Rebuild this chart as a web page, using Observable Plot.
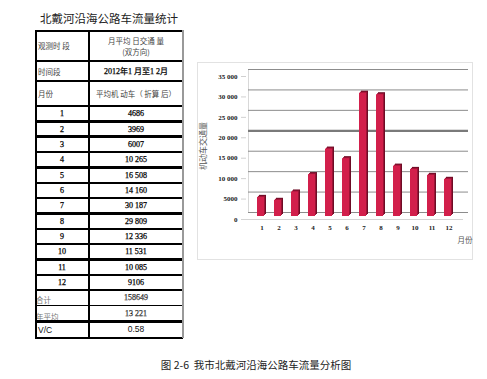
<!DOCTYPE html>
<html><head><meta charset="utf-8">
<script src="https://cdn.jsdelivr.net/npm/d3@7"></script>
<script src="https://cdn.jsdelivr.net/npm/@observablehq/plot@0.6"></script>
<style>
body{margin:0;background:#fff;width:487px;height:379px;position:relative;overflow:hidden;font-family:"Liberation Serif","Noto Sans CJK SC",serif;}
.abs{position:absolute;}
#title{left:40px;top:9px;font-size:11.5px;letter-spacing:0px;color:#222;font-family:"Noto Sans CJK SC",sans-serif;line-height:18px;}
#table{left:35px;top:30px;width:148px;height:308px;}
.cell{position:absolute;display:flex;align-items:center;box-sizing:border-box;font-size:8px;color:#222;}
.c1{justify-content:flex-start;padding-left:3px;}
.cc{justify-content:center;}
.hl{position:absolute;background:#000;}
#chartbox{left:197px;top:62px;width:276px;height:198px;border:1px solid #e2e2e2;box-sizing:border-box;}
#chart{left:197px;top:62px;}
#caption{left:0;width:512px;text-align:center;top:357px;font-size:10.5px;color:#222;font-family:"Noto Sans CJK SC",sans-serif;}
</style></head>
<body>
<div id="title" class="abs">北戴河沿海公路车流量统计</div>
<div id="table" class="abs"></div>
<div id="chartbox" class="abs"></div>
<div id="chart" class="abs"></div>
<div id="caption" class="abs">图 2-6&nbsp; 我市北戴河沿海公路车流量分析图</div>
<script>
const months = ["1","2","3","4","5","6","7","8","9","10","11","12"];
const volumes = [4686,3969,6007,10265,16508,14160,30187,29809,12336,11531,10085,9106];
const volumeLabels = ["4686","3969","6007","10 265","16 508","14 160","30 187","29 809","12 336","11 531","10 085","9106"];
const headerLabels = ["观测时 段","月平均 日交通 量\n(双方向)"];
const periodLabels = ["时间段","2012年1 月至1 2月"];
const unitLabels = ["月份","平均机 动车（ 折算 后）"];
const summaryLabels = ["合计","年平均","V/C"];
const summaryValues = ["158649","13 221","0.58"];
const yTicks = [0,5000,10000,15000,20000,25000,30000,35000];
const yTickLabels = ["0","5000","10 000","15 000","20 000","25 000","30 000","35 000"];
const yTitle = "机动车交通量";
const xTitle = "月份";

(function(){
// ---- table ----
const tb = document.getElementById("table");
const W1 = 54, W = 148;
const rows = [];
rows.push({a:headerLabels[0], b:headerLabels[1], h:31, cjkA:true, cjkB:true, line:2.5});
rows.push({a:periodLabels[0], b:periodLabels[1], h:20, cjkA:true, cjkB:false, line:1.5});
rows.push({a:unitLabels[0], b:unitLabels[1], h:25, cjkA:true, cjkB:true, line:1.5});
months.forEach((m,i)=>rows.push({a:m, b:volumeLabels[i], h:15.35, center:true, line:2.5}));
rows.push({a:summaryLabels[0], b:summaryValues[0], h:15, cjkA:true, gray:true, line:1, low:true});
rows.push({a:summaryLabels[1], b:summaryValues[1], h:16.5, cjkA:true, gray:true, line:2.5, low:true});
rows.push({a:summaryLabels[2], b:summaryValues[2], h:16.5, sans:true, line:2});
let y = 0;
const topLine = document.createElement("div"); topLine.className="hl";
Object.assign(topLine.style,{left:"0px",top:"0px",width:W+"px",height:"2px"}); tb.appendChild(topLine);
rows.forEach((r,i)=>{
  const ca = document.createElement("div");
  ca.className = "cell " + (r.center ? "cc" : "c1");
  Object.assign(ca.style,{left:"0px",top:y+"px",width:W1+"px",height:r.h+"px"});
  if (r.low) { ca.style.alignItems = "flex-end"; ca.style.paddingLeft = "1px"; }
  ca.textContent = r.a;
  const cb = document.createElement("div");
  cb.className = "cell cc";
  Object.assign(cb.style,{left:W1+"px",top:y+"px",width:(W-W1)+"px",height:r.h+"px",textAlign:"center",whiteSpace:"pre-line",lineHeight:"11px"});
  cb.textContent = r.b;
  [ca,cb].forEach((c,j)=>{
    const cjk = j===0 ? r.cjkA : r.cjkB;
    if (cjk) { c.style.fontFamily='"Noto Sans CJK SC",sans-serif'; c.style.fontSize="7.5px"; c.style.color="#444"; }
    else { c.style.fontSize="8px"; c.style.color="#000"; c.style.webkitTextStroke="0.25px #000"; }
    if (r.gray) c.style.color="#777";
    if (r.sans) { c.style.fontFamily='"Liberation Sans",sans-serif'; c.style.fontWeight="normal"; c.style.fontSize="8.5px"; c.style.color="#111"; c.style.webkitTextStroke="0"; }
  });
  tb.appendChild(ca); tb.appendChild(cb);
  y += r.h;
  if (r.line>0 || i===rows.length-1) {
    const l = document.createElement("div"); l.className="hl";
    const lw = i===rows.length-1 ? 2 : r.line;
    Object.assign(l.style,{left:"0px",top:(y-lw/2)+"px",width:W+"px",height:lw+"px"});
    tb.appendChild(l);
  }
});
const leftLine = document.createElement("div"); leftLine.className="hl";
Object.assign(leftLine.style,{left:"0px",top:"0px",width:"2px",height:y+"px"}); tb.appendChild(leftLine);
const midLine = document.createElement("div"); midLine.className="hl";
Object.assign(midLine.style,{left:(W1-0.75)+"px",top:"0px",width:"1.5px",height:y+"px"}); tb.appendChild(midLine);
const rightLine = document.createElement("div"); rightLine.className="hl";
Object.assign(rightLine.style,{left:(W-1)+"px",top:"0px",width:"1.5px",height:y+"px",background:"#999"}); tb.appendChild(rightLine);

// ---- chart ----
const data = months.map((m,i)=>({month:m, value:volumes[i]}));
const chart = Plot.plot({
  width: 276, height: 198,
  marginLeft: 50, marginRight: 12, marginTop: 11, marginBottom: 44,
  style: {background:"transparent", overflow:"visible", fontFamily:"Liberation Serif, serif"},
  x: {type:"band", domain: months, padding: 0.58},
  y: {domain:[0,35000]},
  marks: [
    Plot.frame({anchor:"left", stroke:"#d8d8d8", dy:-4, dx:1}),
    Plot.axisY({ticks: yTicks, tickSize: 5, tickPadding: 4, stroke:"#d0d0d0", tickFormat: d => yTickLabels[yTicks.indexOf(d)], fontSize: 7, fontWeight:"bold", fill:"#222", dy:3, dx:-1, label:null}),
    Plot.ruleY(yTicks.filter(d=>d!==20000), {stroke:"#8c8c8c", strokeWidth:1, dy:-4, insetLeft:1, insetRight:-7}),
    Plot.ruleY([20000], {stroke:"#7a7a7a", strokeWidth:2.2, dy:-4, insetLeft:1, insetRight:-7}),
    Plot.ruleY([0], {stroke:"#d4d4d4", strokeWidth:1, dy:3, insetLeft:-6, insetRight:-2}),
    Plot.barY(data, {x:"month", y:"value", fill:"#6e0c26", dx:2, dy:-2}),
    Plot.barY(data, {x:"month", y:"value", fill:"#9c1436", dx:1, dy:-1}),
    Plot.barY(data, {x:"month", y:"value", fill:"#d21f4b"}),
    Plot.axisX({tickSize:0, tickPadding:9, fontSize:7, fontWeight:"bold", fill:"#222", label:null, dx:1}),
    Plot.text([yTitle], {frameAnchor:"left", textAnchor:"middle", rotate:-90, dx:-44, dy:1, fontSize:8, fill:"#555", fontFamily:"Noto Sans CJK SC, sans-serif"}),
    Plot.text([xTitle], {frameAnchor:"bottom-right", textAnchor:"end", dx:11, dy:26, fontSize:7.5, fill:"#555", fontFamily:"Noto Sans CJK SC, sans-serif"})
  ]
});
document.getElementById("chart").appendChild(chart);
})();
</script>
</body></html>
